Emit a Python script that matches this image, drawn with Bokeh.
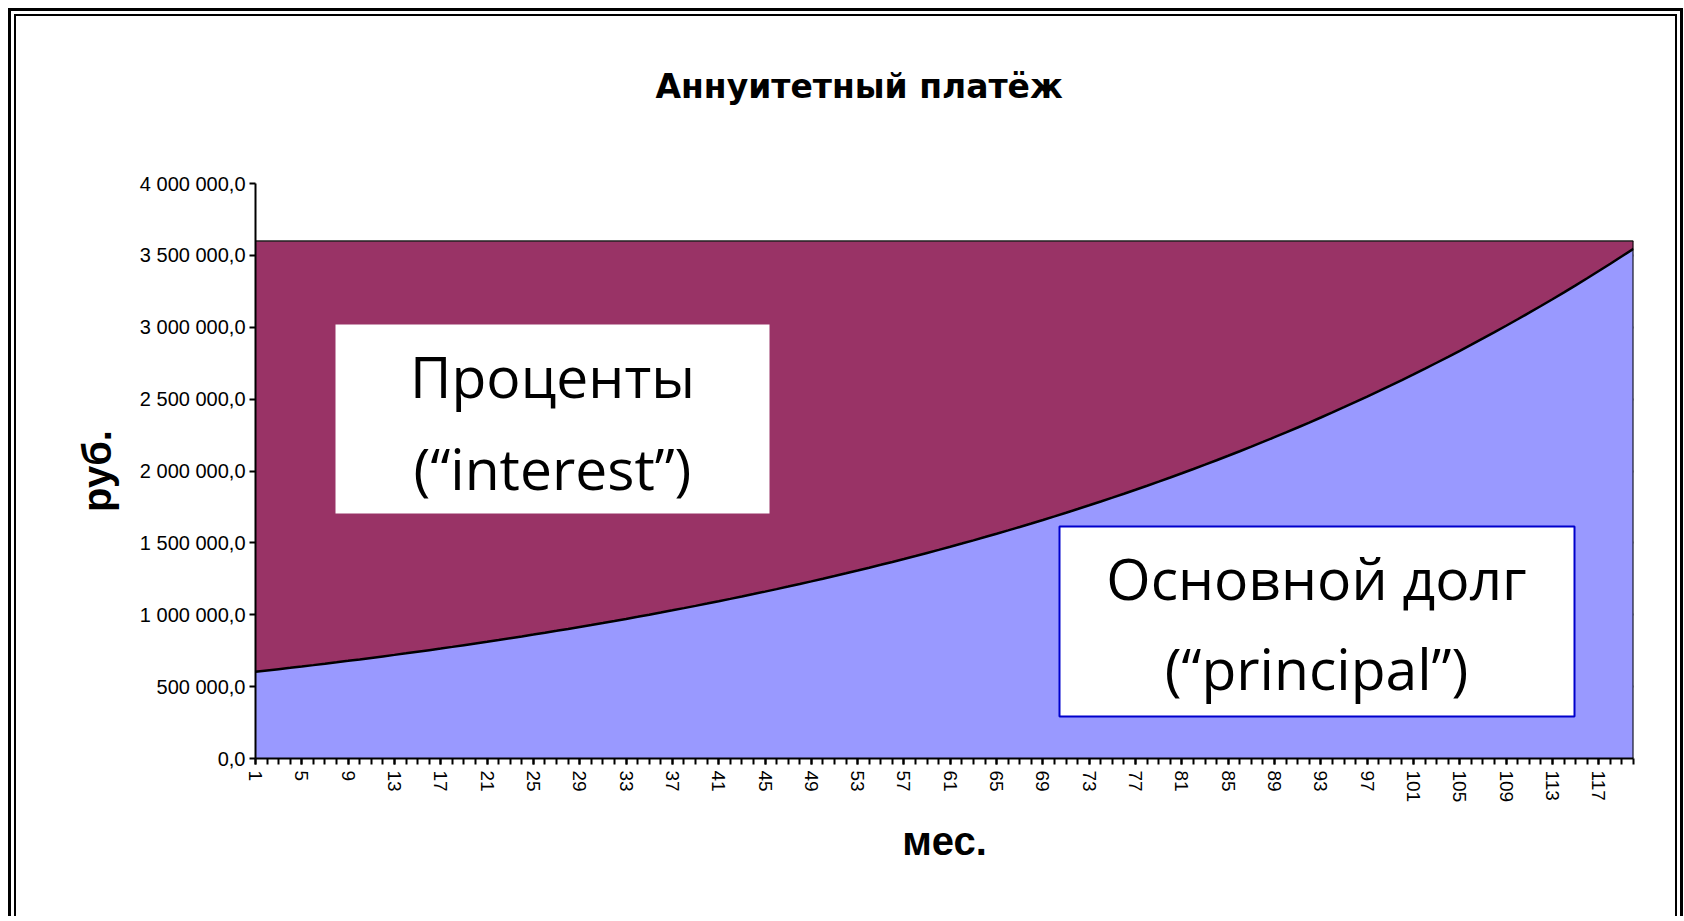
from bokeh.plotting import figure
from bokeh.models import Range1d, FixedTicker, BoxAnnotation, Label, ColumnDataSource
from bokeh.embed import file_html
from bokeh.resources import INLINE

# ---------------- data ----------------
months = list(range(1, 121))
principal = [
    603000, 612000, 621200, 630500, 640000, 649600, 659300, 669200, 679200, 689400,
    699800, 710300, 720900, 731700, 742700, 753800, 765100, 776600, 788300, 800100,
    812100, 824300, 836700, 849200, 862000, 874900, 888000, 901300, 914900, 928600,
    942500, 956700, 971000, 985600, 1000400, 1015400, 1030600, 1046100, 1061800, 1077700,
    1093900, 1110300, 1126900, 1143800, 1161000, 1178400, 1196100, 1214000, 1232200, 1250700,
    1269500, 1288500, 1307800, 1327400, 1347300, 1367500, 1388000, 1408800, 1430000, 1451400,
    1473200, 1495300, 1517700, 1540500, 1563600, 1587100, 1610900, 1635000, 1659600, 1684400,
    1709700, 1735300, 1761400, 1787800, 1814600, 1841800, 1869400, 1897500, 1925900, 1954800,
    1984100, 2013900, 2044100, 2074800, 2105900, 2137500, 2169500, 2202100, 2235100, 2268600,
    2302700, 2337200, 2372300, 2407800, 2443900, 2480600, 2517800, 2555600, 2593900, 2632800,
    2672300, 2712400, 2753100, 2794400, 2836300, 2878800, 2922000, 2965800, 3010300, 3055500,
    3101300, 3147800, 3195000, 3242900, 3291600, 3341000, 3391100, 3441900, 3493500, 3545900,
]
payment = [3600000] * 120
interest = [pay - pr for pay, pr in zip(payment, principal)]

x_tick_values = list(range(1, 121, 4))
y_tick_values = [0, 500000, 1000000, 1500000, 2000000, 2500000, 3000000, 3500000, 4000000]
y_tick_labels = ["0,0", "500 000,0", "1 000 000,0", "1 500 000,0", "2 000 000,0",
                 "2 500 000,0", "3 000 000,0", "3 500 000,0", "4 000 000,0"]

title_text = "Аннуитетный платёж"
x_title = "мес."
y_title = "руб."
interest_lines = ["Проценты", "(“interest”)"]
principal_lines = ["Основной долг", "(“principal”)"]

# ---------------- layout (canvas pixels) ----------------
FL, FT, FW, FH = 255, 183, 1378, 575
X0, X1, Y0, Y1 = 1, 120, 0, 4000000

def fx(px):
    return X0 + (px - FL) * (X1 - X0) / FW

def fy(py):
    return Y1 - (py - FT) * (Y1 - Y0) / FH

frame_css = {
    "background-color": "white",
    "background-image": ", ".join(["linear-gradient(#000, #000)"] * 6),
    "background-size": ("3px 913px, 2px 907px, 1675px 3px, 1661px 2px, "
                        "3px 913px, 2px 907px"),
    "background-position": ("8px 8px, 14px 14px, 8px 8px, 14px 14px, "
                            "1680px 8px, 1675px 14px"),
    "background-repeat": "no-repeat",
}

p = figure(frame_width=FW, frame_height=FH,
           min_border_left=FL, min_border_top=FT, min_border_right=51, min_border_bottom=158,
           x_range=Range1d(X0, X1), y_range=Range1d(Y0, Y1),
           output_backend="svg", toolbar_location=None,
           background_fill_color="white", border_fill_color=None,
           styles=frame_css)
p.outline_line_color = None

# title (a trailing empty line lifts the visible line within the title panel)
p.title.text = title_text + "\n"
p.title.align = "left"
p.title.offset = 400
p.title.standoff = 77
p.title.text_font = "DejaVu Sans"
p.title.text_font_style = "bold"
p.title.text_font_size = "33px"
p.title.text_color = "black"

src = ColumnDataSource(dict(month=months, principal=principal, interest=interest, total=payment))
p.varea_stack(["principal", "interest"], x="month", color=["#9999FF", "#993366"], source=src)
p.line("month", "total", source=src, line_color="#222222", line_width=1.5)
p.line("month", "principal", source=src, line_color="black", line_width=2.5)
p.segment(x0=[months[-1]], y0=[0], x1=[months[-1]], y1=[payment[-1]],
          line_color="black", line_width=2)

# axes
for ax in (p.xaxis, p.yaxis):
    ax.axis_line_color = "black"
    ax.axis_line_width = 2
    ax.major_tick_line_color = "black"
    ax.major_tick_line_width = 2
    ax.major_tick_in = 0
    ax.major_tick_out = 6
    ax.major_label_text_font = "Liberation Sans"
    ax.major_label_text_color = "black"
    ax.axis_label_text_font = "Liberation Sans"
    ax.axis_label_text_font_size = "40px"
    ax.axis_label_text_font_style = "bold"
    ax.axis_label_text_color = "black"

p.xaxis.ticker = FixedTicker(ticks=x_tick_values, minor_ticks=months)
p.xaxis.minor_tick_line_color = "black"
p.xaxis.minor_tick_line_width = 2
p.xaxis.minor_tick_in = 0
p.xaxis.minor_tick_out = 6
p.xaxis.major_label_orientation = "vertical"
p.xaxis.major_label_text_font_size = "19px"
p.xaxis.major_label_standoff = 6
p.xaxis.axis_label = x_title
p.xaxis.axis_label_standoff = 14

p.yaxis.ticker = FixedTicker(ticks=y_tick_values)
p.yaxis.minor_tick_line_color = None
p.yaxis.major_label_overrides = {v: s for v, s in zip(y_tick_values, y_tick_labels)}
p.yaxis.major_label_text_font_size = "20px"
p.yaxis.major_label_standoff = 4
p.yaxis.axis_label = y_title
p.yaxis.axis_label_standoff = 18

p.xgrid.grid_line_color = None
p.ygrid.grid_line_color = "black"
p.ygrid.grid_line_width = 2

# text boxes
p.add_layout(BoxAnnotation(left=fx(335), right=fx(769), top=fy(324), bottom=fy(513),
                           fill_color="white", fill_alpha=1, line_color=None))
p.add_layout(BoxAnnotation(left=fx(1059), right=fx(1574), top=fy(526), bottom=fy(716),
                           fill_color="white", fill_alpha=1,
                           line_color="#0000CC", line_alpha=1, line_width=2))

for txt, cx, by in ((interest_lines[0], 552, 375), (interest_lines[1], 552, 467),
                    (principal_lines[0], 1316, 577), (principal_lines[1], 1316, 667)):
    p.add_layout(Label(x=fx(cx), y=fy(by), text=txt, text_align="center",
                       text_baseline="alphabetic", text_font="Open Sans",
                       text_font_size="57px", text_color="black"))

open("out.html", "w").write(file_html(p, INLINE))
